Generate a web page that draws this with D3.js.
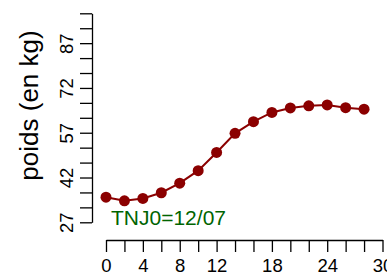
<!DOCTYPE html>
<html>
<head>
<meta charset="utf-8">
<script src="https://cdn.jsdelivr.net/npm/d3@7"></script>
<style>
  html, body { margin: 0; padding: 0; background: #fff; }
  svg { display: block; }
  text { font-family: "Liberation Sans", Arial, sans-serif; }
</style>
</head>
<body>
<svg id="chart" width="387" height="275"></svg>
<script>
// Data
const days = [0, 2, 4, 6, 8, 10, 12, 14, 16, 18, 20, 22, 24, 26, 28];
const weights = [35.4, 34.2, 35.0, 36.9, 40.1, 44.3, 50.4, 56.8, 60.7, 63.8, 65.3, 66.0, 66.3, 65.4, 64.9];
const xTicks = [0, 2, 4, 6, 8, 10, 12, 14, 16, 18, 20, 22, 24, 26, 28, 30];
const xLabels = [0, 4, 8, 12, 18, 24, 30];
const yTicks = [27, 32, 37, 42, 47, 52, 57, 62, 67, 72, 77, 82, 87, 92, 97];
const yLabels = [27, 42, 57, 72, 87];
const yTitle = "poids (en kg)";
const note = "TNJ0=12/07";

const svg = d3.select("#chart");

const x = d3.scaleLinear().domain([0, 30]).range([106, 382.5]);
const y = d3.scaleLinear().domain([27, 97]).range([222.3, 13.3]);

// X axis
const xAxis = d3.axisBottom(x)
  .tickValues(xTicks)
  .tickSize(12)
  .tickSizeOuter(0)
  .tickPadding(6.5)
  .tickFormat(d => xLabels.includes(d) ? String(d) : "");
const gx = svg.append("g").attr("transform", "translate(0,240)").call(xAxis);
gx.selectAll("path, line").attr("stroke", "#000").attr("stroke-width", 1.3);
gx.selectAll("text").attr("font-size", 18.5).attr("fill", "#000")
  .style("font-family", "'Liberation Sans', Arial, sans-serif");

// Y axis
const yAxis = d3.axisLeft(y)
  .tickValues(yTicks)
  .tickSize(12)
  .tickSizeOuter(0)
  .tickFormat(d => yLabels.includes(d) ? String(d) : "");
const gy = svg.append("g").attr("transform", "translate(92,0)").call(yAxis);
gy.selectAll("path, line").attr("stroke", "#000").attr("stroke-width", 1.3);
gy.selectAll("text")
  .attr("font-size", 18.5).attr("fill", "#000")
  .style("font-family", "'Liberation Sans', Arial, sans-serif")
  .attr("transform", "rotate(-90)")
  .attr("x", 0).attr("y", -19).attr("dy", 0)
  .attr("text-anchor", "middle");

// Y title
svg.append("text")
  .attr("transform", "translate(37.5,105.5) rotate(-90)")
  .attr("text-anchor", "middle")
  .attr("font-size", 26)
  .attr("fill", "#000")
  .text(yTitle);

// Line
const line = d3.line().x((d, i) => x(days[i])).y(d => y(d));
svg.append("path")
  .datum(weights)
  .attr("d", line)
  .attr("fill", "none")
  .attr("stroke", "#8B0000")
  .attr("stroke-width", 2);

// Points
svg.selectAll("circle.pt")
  .data(weights)
  .join("circle")
  .attr("class", "pt")
  .attr("cx", (d, i) => x(days[i]))
  .attr("cy", d => y(d))
  .attr("r", 5.5)
  .attr("fill", "#8B0000");

// Note
svg.append("text")
  .attr("x", 111)
  .attr("y", 224.5)
  .attr("font-size", 21)
  .attr("fill", "#006400")
  .text(note);
</script>
</body>
</html>
